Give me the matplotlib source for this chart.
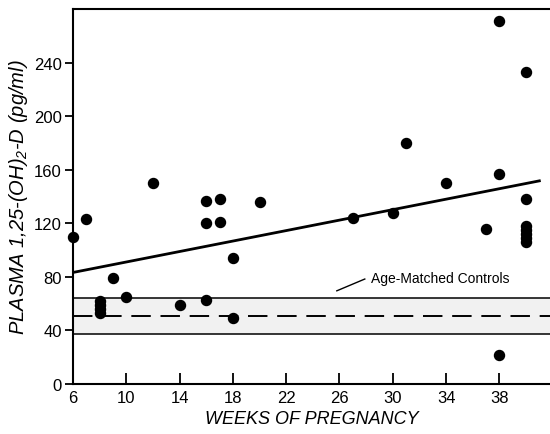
import matplotlib
matplotlib.use("Agg")
import matplotlib.pyplot as plt
import numpy as np

plt.rcParams['font.family'] = ['Liberation Sans', 'DejaVu Sans']
plt.rcParams['mathtext.fontset'] = 'custom'
plt.rcParams['mathtext.rm'] = 'Liberation Sans:italic'
plt.rcParams['mathtext.it'] = 'Liberation Sans:italic'

# data
weeks = [6, 7, 8, 8, 8, 8, 9, 10, 12, 14, 16, 16, 16, 17, 17, 18, 18, 20,
         27, 30, 31, 34, 37, 38, 38, 38, 40, 40, 40, 40, 40, 40, 40]
values = [110, 123, 62, 59, 56, 53, 79, 65, 150, 59, 137, 120, 63, 138, 121, 94, 49, 136,
          124, 128, 180, 150, 116, 271, 157, 22, 233, 138, 118, 115, 112, 109, 106]

reg_x = [6, 41]
reg_y = [83.3, 151.7]

ctrl_upper = 64
ctrl_mean = 51
ctrl_lower = 37.5

xticks = [6, 10, 14, 18, 22, 26, 30, 34, 38]
yticks = [0, 40, 80, 120, 160, 200, 240]

fig = plt.figure(figsize=(5.5, 4.35), dpi=100)
ax = fig.add_axes([0.1327, 0.1149, 0.8673, 0.862])
ax.set_xlim(6, 41.8)
ax.set_ylim(0, 280)

ax.fill_between([6, 41.8], ctrl_lower, ctrl_upper, color='#f1f1f1', zorder=0, lw=0)
ax.axhline(ctrl_upper, color='black', lw=1.1, zorder=1)
ax.axhline(ctrl_lower, color='black', lw=1.1, zorder=1)
ax.axhline(ctrl_mean, color='black', lw=1.4, ls=(0, (10, 5)), zorder=1)

ax.plot(reg_x, reg_y, color='black', lw=2, zorder=2)
ax.scatter(weeks, values, s=52, color='black', zorder=3, clip_on=False)

ax.plot([25.8, 27.9], [69.6, 78.4], color='black', lw=1)
ax.text(28.4, 79, 'Age-Matched Controls', fontsize=10, ha='left', va='center')

ax.spines['right'].set_visible(False)
for s in ['left', 'bottom', 'top']:
    ax.spines[s].set_linewidth(1.5)

ax.set_xticks(xticks)
ax.set_yticks(yticks)
ax.tick_params(axis='x', direction='in', length=8, width=1.3, labelsize=12, pad=4)
ax.tick_params(axis='y', direction='out', length=6, width=1.3, labelsize=12, pad=2)

ax.set_xlabel('WEEKS OF PREGNANCY', fontsize=13, style='italic', labelpad=4)
ax.set_ylabel(r'PLASMA 1,25-(OH)$_2$-D (pg/ml)', fontsize=14.5, style='italic', labelpad=3)

fig.savefig('out.png', dpi=100)
